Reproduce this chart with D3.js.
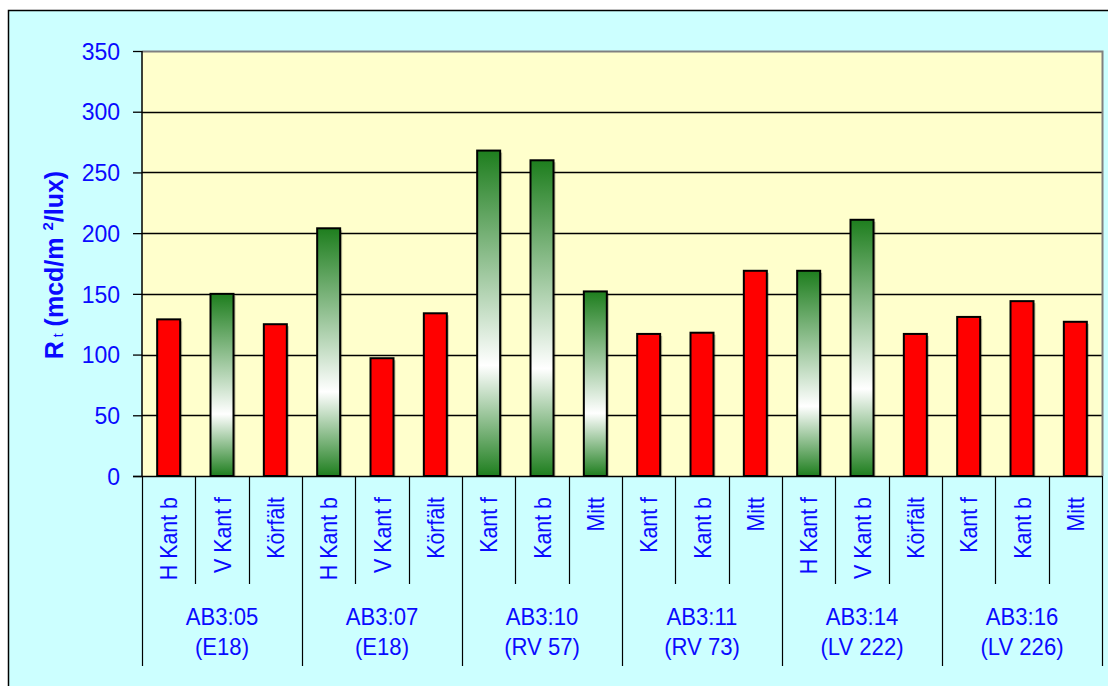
<!DOCTYPE html>
<html><head><meta charset="utf-8">
<script src="https://cdn.jsdelivr.net/npm/d3@7"></script>
<style>body{margin:0;background:#fff}svg{display:block}</style>
</head><body>
<svg id="c" width="1108" height="686"></svg>
<script>
const groups = ["AB3:05|(E18)", "AB3:07|(E18)", "AB3:10|(RV 57)", "AB3:11|(RV 73)", "AB3:14|(LV 222)", "AB3:16|(LV 226)"];
const subLabels = [
  ["H Kant b", "V Kant f", "Körfält"],
  ["H Kant b", "V Kant f", "Körfält"],
  ["Kant f", "Kant b", "Mitt"],
  ["Kant f", "Kant b", "Mitt"],
  ["H Kant f", "V Kant b", "Körfält"],
  ["Kant f", "Kant b", "Mitt"]
];
const values = [
  [129, 150, 125],
  [204, 97, 134],
  [268, 260, 152],
  [117, 118, 169],
  [169, 211, 117],
  [131, 144, 127]
];
const isGreen = [
  [false, true, false],
  [true, false, false],
  [true, true, true],
  [false, false, false],
  [true, true, false],
  [false, false, false]
];
const yTicks = [0, 50, 100, 150, 200, 250, 300, 350];

const svg = d3.select("#c");
const L = 142, R = 1102, T = 51, B = 476;
const blue = "#0a0aff";
const font = "Arial, 'Liberation Sans', sans-serif";

svg.append("rect").attr("x", 8.5).attr("y", 10.5).attr("width", 1110).attr("height", 690)
  .attr("fill", "#CCFFFF").attr("stroke", "#000").attr("stroke-width", 1.5);

const defs = svg.append("defs");
const grad = defs.append("linearGradient").attr("id", "gg").attr("x1", 0).attr("y1", 0).attr("x2", 0).attr("y2", 1);
grad.append("stop").attr("offset", "0%").attr("stop-color", "#1E7E1E");
grad.append("stop").attr("offset", "66%").attr("stop-color", "#ffffff");
grad.append("stop").attr("offset", "100%").attr("stop-color", "#1E7E1E");

const items = [];
groups.forEach((g, gi) => subLabels[gi].forEach((s, si) => items.push({id: gi + "-" + si, g: gi, label: s, v: values[gi][si], green: isGreen[gi][si]})));

const x = d3.scaleBand().domain(items.map(d => d.id)).range([L, R]).paddingInner(0).paddingOuter(0);
const y = d3.scaleLinear().domain([0, 350]).range([B, T]);

svg.append("rect").attr("x", L).attr("y", T).attr("width", R - L).attr("height", B - T).attr("fill", "#FFFFCC");

svg.append("g").selectAll("line").data(yTicks.filter(t => t > 0 && t < 350)).join("line")
  .attr("x1", L).attr("x2", R).attr("y1", d => Math.round(y(d)) + 0.5).attr("y2", d => Math.round(y(d)) + 0.5)
  .attr("stroke", "#000").attr("stroke-width", 1.3);

svg.append("path").attr("d", `M${L},${T + 0.5}H${R + 0.5}V${B}`).attr("fill", "none").attr("stroke", "#808080").attr("stroke-width", 2);

const bw = 23;
const barG = svg.append("g");
barG.selectAll("rect.sh").data(items).join("rect").attr("class", "sh")
  .attr("x", d => x(d.id) + x.bandwidth() / 2 - bw / 2 + 2).attr("y", d => y(d.v) + 2)
  .attr("width", bw).attr("height", d => B - y(d.v) - 2).attr("fill", "#000").attr("opacity", 0.25);
barG.selectAll("rect.b").data(items).join("rect").attr("class", "b")
  .attr("x", d => x(d.id) + x.bandwidth() / 2 - bw / 2).attr("y", d => y(d.v))
  .attr("width", bw).attr("height", d => B - y(d.v))
  .attr("fill", d => d.green ? "url(#gg)" : "#FF0000").attr("stroke", "#000").attr("stroke-width", 2);

const yAxis = d3.axisLeft(y).tickValues(yTicks).tickSize(9).tickPadding(13);
const ya = svg.append("g").attr("transform", `translate(${L},0)`).call(yAxis);
ya.select(".domain").attr("stroke", "#000").attr("stroke-width", 1.5).attr("d", `M0,${T}V${B}`);
ya.selectAll(".tick line").attr("stroke", "#000").attr("stroke-width", 1.3);
ya.selectAll(".tick text").attr("fill", blue).attr("font-size", "23px").attr("font-family", font).attr("dy", "0.36em");

svg.append("line").attr("x1", L - 9).attr("x2", R).attr("y1", B + 0.5).attr("y2", B + 0.5).attr("stroke", "#000").attr("stroke-width", 1.5);

const sepG = svg.append("g");
const bounds = items.map((d, i) => ({xv: x(d.id), groupStart: i % 3 === 0}));
bounds.push({xv: R, groupStart: true});
sepG.selectAll("line").data(bounds).join("line")
  .attr("x1", d => Math.round(d.xv) + 0.5).attr("x2", d => Math.round(d.xv) + 0.5)
  .attr("y1", B).attr("y2", d => d.groupStart ? 666 : 584)
  .attr("stroke", "#000").attr("stroke-width", 1.2);

svg.append("g").selectAll("text").data(items).join("text")
  .attr("transform", d => `translate(${x(d.id) + x.bandwidth() / 2 + 8.5},497) rotate(-90) scale(0.91,1)`)
  .attr("text-anchor", "end").attr("fill", blue).attr("font-size", "23.5px").attr("font-family", font)
  .text(d => d.label);

const gw = x.bandwidth() * 3;
const gl = svg.append("g").selectAll("text").data(groups).join("text")
  .attr("transform", (d, i) => `translate(${L + gw * i + gw / 2},625) scale(0.94,1)`)
  .attr("text-anchor", "middle").attr("fill", blue).attr("font-size", "23.5px").attr("font-family", font);
gl.append("tspan").attr("x", 0).attr("y", 0).text(d => d.split("|")[0]);
gl.append("tspan").attr("x", 0).attr("y", 30).text(d => d.split("|")[1]);

const yt = svg.append("text").attr("transform", `translate(63,265) rotate(-90)`)
  .attr("text-anchor", "middle").attr("fill", blue).attr("font-size", "25px").attr("font-weight", "bold").attr("font-family", font);
yt.append("tspan").text("R");
yt.append("tspan").attr("font-size", "14px").attr("font-weight", "normal").text(" t");
yt.append("tspan").text(" (mcd/m ");
yt.append("tspan").attr("font-size", "15px").attr("dy", -10).text("2");
yt.append("tspan").attr("dy", 10).text("/lux)");
</script>
</body></html>
